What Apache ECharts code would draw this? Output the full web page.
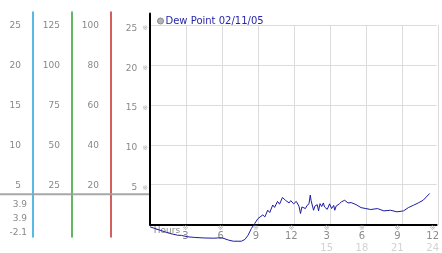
<!DOCTYPE html>
<html><head><meta charset="utf-8">
<script src="https://cdn.jsdelivr.net/npm/echarts@6/dist/echarts.min.js"></script>
<style>html,body{margin:0;padding:0;background:#fff}#c{width:442px;height:253px}</style>
</head><body><div id="c"></div>
<script>
const seriesName = 'Dew Point 02/11/05';
const hours = [0,0.83,1.67,2.33,2.67,3.17,3.75,4.58,5.42,6.08,
  6.67,7.08,7.75,8.06,8.33,8.61,8.89,9.17,9.33,9.58,
  9.75,10.0,10.17,10.42,10.58,10.83,11.0,11.25,11.5,11.65,
  11.81,11.95,12.08,12.2,12.33,12.42,12.5,12.65,12.78,12.9,
  13.06,13.2,13.33,13.5,13.61,13.68,13.75,13.89,14.0,14.08,
  14.2,14.31,14.44,14.58,14.72,14.82,14.92,15.05,15.14,15.25,
  15.33,15.42,15.5,15.6,15.69,15.8,15.92,16.08,16.25,16.4,
  16.53,16.67,16.81,16.95,17.08,17.5,17.92,18.33,18.75,19.31,
  19.86,20.42,20.97,21.53,21.94,22.36,22.78,23.19,23.75];
const dewPoint = [-0.29,-0.71,-1.12,-1.34,-1.37,-1.54,-1.62,-1.69,-1.72,-1.66,
  -1.96,-2.1,-2.1,-1.88,-1.34,-0.5,0.12,0.75,0.5,1.2,
  0.95,1.8,1.5,2.45,2.15,2.9,2.55,3.4,3.04,3.2,
  2.71,3.0,3.12,2.6,2.41,2.9,2.88,2.3,1.38,2.2,
  2.21,2.0,2.38,2.6,3.7,3.0,2.84,1.79,2.3,2.12,
  2.5,1.71,2.62,2.25,2.71,2.2,2.45,1.9,2.0,2.6,
  2.5,2.0,2.12,2.4,1.79,2.3,2.5,2.6,2.84,2.95,
  3.04,2.8,2.71,2.85,2.75,2.5,2.12,2.0,1.88,2.0,
  1.71,1.79,1.59,1.71,2.12,2.41,2.71,3.04,3.9];
const yTickValues = [5,10,15,20,25];
const col1Labels = ['5','10','15','20','25'];
const col2Labels = ['25','50','75','100','125'];
const col3Labels = ['20','40','60','80','100'];
const col4Labels = ['5','10','15','20','25'];
const xTickHours = [3,6,9,12,15,18,21,24];
const xRow1Labels = ['3','6','9','12','3','6','9','12'];
const xRow2Labels = ['','','','','15','18','21','24'];
const xStartLabel = 'Hours';
const summaryLabels = ['3.9','3.9','-2.1'];
const currentValue = 3.9;

const FONT = 'DejaVu Sans, Noto Sans CJK SC';
const MARK = '\u203B';
const ZERO_Y = 225.5, PX = 8;
const COL_MIN = -(237 - ZERO_Y) / PX, COL_MAX = (ZERO_Y - 12) / PX;

function colGrid(x) { return { left: x, width: 10, top: 12, bottom: 16 }; }
function colAxis(labels, color, gridIndex) {
  return {
    type: 'value', gridIndex: gridIndex, position: 'left', offset: 0,
    min: COL_MIN, max: COL_MAX,
    axisLine: { show: true, onZero: false, lineStyle: { color: color, width: 1.5, opacity: 1 } },
    axisTick: { show: false }, splitLine: { show: false },
    axisLabel: {
      customValues: yTickValues, margin: 12, color: '#888', fontSize: 9, fontFamily: FONT,
      padding: [6, 0, 0, 0],
      formatter: v => labels[yTickValues.indexOf(v)] || ''
    }
  };
}
function hiddenX(gridIndex) { return { type: 'value', gridIndex: gridIndex, min: 0, max: 1, show: false }; }

const chart = echarts.init(document.getElementById('c'));
chart.setOption({
  animation: false,
  grid: [
    { left: 150, right: 0, top: ZERO_Y - 26.5 * PX, bottom: 253 - ZERO_Y },
    { left: 150, right: 0, top: 25, bottom: 253 - ZERO_Y },
    colGrid(111),
    { left: 0, width: 149, top: 12, bottom: 16 },
    colGrid(72),
    colGrid(33)
  ],
  legend: {
    left: 152, top: 11, itemWidth: 6, itemHeight: 6, icon: 'circle',
    data: [{ name: seriesName, itemStyle: { color: '#b4b4b4', borderColor: '#888', borderWidth: 1 } }],
    textStyle: { color: '#2626a8', fontSize: 10, fontFamily: FONT, padding: [0, 0, 0, -3] }
  },
  xAxis: [
    {
      type: 'value', gridIndex: 0, min: 0, max: 292 / 12, interval: 3,
      axisLine: { show: true, onZero: false, lineStyle: { color: '#000', width: 2 } },
      axisTick: { show: false }, splitLine: { show: false },
      axisLabel: {
        showMaxLabel: false, showMinLabel: true, margin: 1, fontFamily: FONT,
        formatter: v => {
          if (v === 0) return '{h|' + xStartLabel + '}';
          const i = xTickHours.indexOf(v);
          if (i < 0) return '';
          let s = '{m|' + MARK + '}\n{a|' + xRow1Labels[i] + '}';
          if (xRow2Labels[i]) s += '\n{b|' + xRow2Labels[i] + '}';
          return s;
        },
        rich: {
          h: { fontSize: 9, color: '#8a8a8a', lineHeight: 10, padding: [0, 0, 0, 34], fontFamily: FONT },
          m: { fontSize: 7, color: '#b4b4b4', lineHeight: 6, fontFamily: FONT },
          a: { fontSize: 10, color: '#8c8c8c', lineHeight: 10, fontFamily: FONT },
          b: { fontSize: 10, color: '#d2d2d2', lineHeight: 13, fontFamily: FONT }
        }
      }
    },
    {
      type: 'value', gridIndex: 1, min: 0, max: 292 / 12, interval: 3,
      axisLine: { show: false }, axisTick: { show: false }, axisLabel: { show: false },
      splitLine: { show: true, showMinLine: false, showMaxLine: false, lineStyle: { color: '#dcdcdc', width: 1 } }
    },
    hiddenX(2), hiddenX(3), hiddenX(4), hiddenX(5)
  ],
  yAxis: [
    {
      type: 'value', gridIndex: 0, min: 0, max: 26.5, interval: 5,
      axisLine: { show: true, onZero: false, lineStyle: { color: '#000', width: 2 } },
      axisTick: { show: false },
      splitLine: { show: true, showMinLine: false, showMaxLine: false, lineStyle: { color: '#dcdcdc', width: 1 } },
      axisLabel: {
        customValues: yTickValues, margin: 2, fontFamily: FONT, padding: [6, 0, 0, 0],
        formatter: v => '{v|' + (col4Labels[yTickValues.indexOf(v)] || '') + '}{m|' + MARK + '}',
        rich: {
          v: { fontSize: 9, color: '#888', fontFamily: FONT },
          m: { fontSize: 7, color: '#b4b4b4', padding: [0, 0, 0, 5], fontFamily: FONT }
        }
      }
    },
    { type: 'value', gridIndex: 1, min: 0, max: (ZERO_Y - 25) / PX, show: false },
    colAxis(col3Labels, '#c42a2a', 2),
    { type: 'value', gridIndex: 3, min: COL_MIN, max: COL_MAX, show: false },
    colAxis(col2Labels, '#2ea02e', 4),
    colAxis(col1Labels, '#22a2dc', 5)
  ],
  graphic: summaryLabels.map((t, i) => ({
    type: 'text', right: 442 - 27, top: 200 + i * 14,
    style: { text: t, fill: '#888', font: '9px ' + FONT, textAlign: 'right' }
  })),
  series: [
    {
      name: 'current', type: 'line', xAxisIndex: 3, yAxisIndex: 3, silent: true,
      data: [[0, currentValue], [1, currentValue]], symbol: 'none', z: 1,
      lineStyle: { color: '#9e9e9e', width: 2, opacity: 0.9 }
    },
    {
      name: seriesName, type: 'line', xAxisIndex: 0, yAxisIndex: 0, clip: false,
      data: hours.map((h, i) => [h, dewPoint[i]]), symbol: 'none', z: 5,
      lineStyle: { color: '#1c1ca0', width: 1 }, itemStyle: { color: '#1c1ca0' }
    }
  ]
});
</script></body></html>
